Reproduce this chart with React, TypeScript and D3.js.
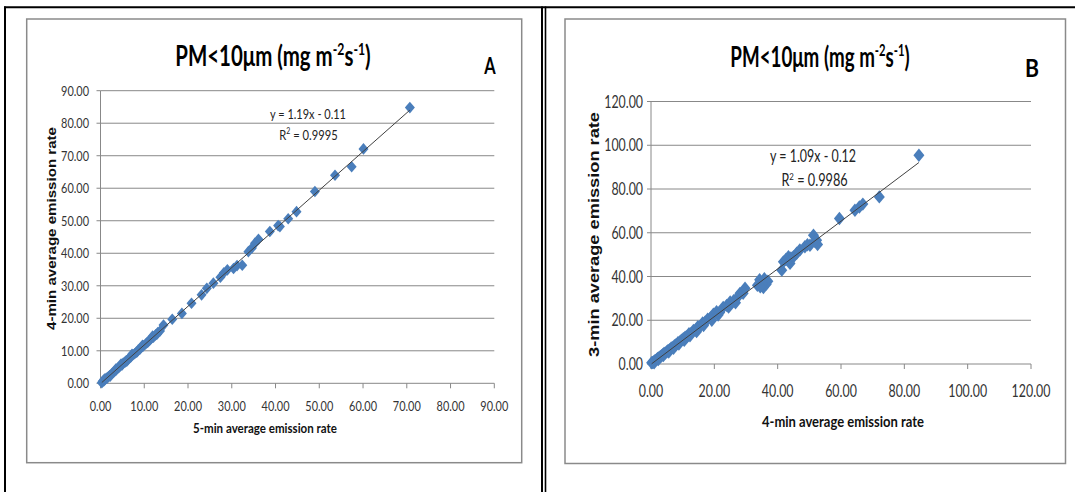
import React from 'react';
import * as d3 from 'd3';

// ---------- DATA ----------
const ticksA = [0, 10, 20, 30, 40, 50, 60, 70, 80, 90];
const ticksB = [0, 20, 40, 60, 80, 100, 120];

// Panel A: 5-min (x) vs 4-min (y)
const aX = [0.3, 0.5, 0.8, 1.0, 1.3, 1.5, 1.8, 2.1, 2.4, 2.7, 3.0, 3.3, 3.6, 3.9, 4.2, 4.5, 4.9, 5.2, 5.6, 5.9,
  6.3, 6.7, 7.0, 7.4, 7.8, 8.2, 8.6, 9.0, 9.4, 9.8, 10.3, 10.7, 11.2, 11.6, 12.1, 12.6, 13.1, 13.6,
  14.4, 16.4, 18.6, 20.8, 23.1, 24.3, 25.8, 27.4, 28.2, 29.0, 30.4, 31.2, 32.4,
  33.8, 34.6, 35.3, 36.1, 38.7, 40.6, 41.0, 42.9, 44.8, 49.0, 53.6, 57.4, 60.1, 70.7,
  0.9, 2.2, 3.5, 4.7, 6.0, 7.2, 8.4, 9.6, 10.9, 11.9, 12.9];
const aY = [0.2, 0.6, 0.8, 1.1, 1.5, 1.6, 2.0, 2.4, 2.7, 3.1, 3.4, 3.8, 4.1, 4.6, 4.9, 5.3, 5.6, 6.2, 6.5, 7.0,
  7.3, 7.9, 8.2, 8.8, 9.1, 9.6, 10.2, 10.5, 11.2, 11.5, 12.1, 12.6, 13.2, 13.8, 14.2, 14.9, 15.6, 16.1,
  17.9, 19.7, 21.5, 24.6, 27.2, 29.2, 30.8, 32.6, 34.0, 34.9, 35.3, 36.2, 36.3,
  40.5, 41.6, 43.1, 44.3, 46.7, 48.5, 48.2, 50.6, 52.8, 59.0, 64.0, 66.6, 72.1, 84.8,
  1.3, 2.2, 4.4, 5.9, 6.8, 8.9, 9.7, 11.7, 12.8, 14.5, 15.1];
const fitA = { slope: 1.19, intercept: -0.11, eq: 'y = 1.19x - 0.11', r2: '0.9995' };

// Panel B: 4-min (x) vs 3-min (y)
const bX = [0.2, 0.5, 0.8, 1.1, 1.4, 1.8, 2.1, 2.5, 2.9, 3.3, 3.7, 4.1, 4.5, 5.0, 5.4, 5.9, 6.4, 6.9, 7.4, 7.9,
  8.5, 9.0, 9.6, 10.2, 10.8, 11.4, 12.0, 12.7, 13.4, 14.1, 14.8, 15.5, 16.3, 17.1, 17.9, 18.8, 19.7, 20.7,
  21.7, 22.8, 23.9, 25.0, 26.1, 27.4, 28.1, 29.1, 29.7,
  33.6, 34.3, 35.0, 35.5, 35.8, 36.4, 36.9, 35.2, 34.5,
  41.3, 41.8, 42.6, 43.4, 43.9, 44.2, 45.0, 46.0, 47.0, 48.6, 49.4, 50.2, 51.3, 51.8, 52.3, 52.6,
  59.5, 64.4, 65.8, 66.9, 72.1, 84.6,
  1.0, 2.3, 3.9, 5.6, 7.1, 8.8, 10.5, 12.3, 14.4, 16.6, 19.2, 21.2, 24.5, 26.7];
const bY = [0.6, 0.7, 0.9, 1.4, 1.6, 2.1, 2.5, 2.9, 3.3, 3.8, 4.3, 4.8, 5.0, 5.6, 6.2, 6.5, 7.3, 7.6, 8.4, 8.8,
  9.7, 10.1, 10.9, 11.6, 12.3, 12.6, 13.8, 14.1, 15.3, 15.6, 17.0, 17.2, 18.8, 19.2, 20.5, 21.1, 22.8, 23.9,
  23.6, 25.9, 26.8, 28.4, 28.9, 30.6, 32.3, 32.3, 34.6,
  36.0, 38.5, 37.0, 35.0, 39.0, 36.5, 37.8, 36.8, 35.3,
  42.9, 46.7, 47.8, 49.0, 46.0, 48.5, 49.0, 50.6, 52.1, 53.6, 54.5, 54.3, 58.9, 56.0, 56.6, 54.6,
  66.5, 70.3, 71.8, 73.1, 76.4, 95.4,
  0.6, 2.0, 3.9, 5.5, 7.2, 9.1, 10.8, 12.9, 14.8, 17.6, 20.0, 22.4, 26.0, 28.0];
const fitB = { slope: 1.09, intercept: -0.12, eq: 'y = 1.09x - 0.12', r2: '0.9986' };

// ---------- STYLE ----------
const CAL = "Lato, 'Open Sans', sans-serif";
const ARIAL = "'Liberation Sans', Arial, sans-serif";
const MARKER = '#4a7ebb';
const GRID = '#888888';
const TICKTXT = '#333333';

type Box = { cx: number; base: number; size: number; sx: number };
type PanelCfg = {
  xs: number[]; ys: number[];
  fit: { slope: number; intercept: number; eq: string; r2: string };
  ticks: number[]; max: number;
  frame: [number, number, number, number];
  px: [number, number]; py: [number, number];
  tickSize: number; tickSx: number; yLabRight: number; yLabDy: number; xLabBase: number;
  title: Box;
  letter: { t: string; cx: number; base: number; w: number; size: number };
  xTitle: { t: string; cx: number; base: number; w: number; size: number };
  yTitle: { t: string; x: number; cy: number; w: number; size: number };
  eq1: { cx: number; base: number; w: number; size: number };
  eq2: Box;
  mw: number; mh: number;
};

function Panel({ c }: { c: PanelCfg }) {
  const x = d3.scaleLinear().domain([0, c.max]).range(c.px);
  const y = d3.scaleLinear().domain([0, c.max]).range(c.py);
  const [fx0, fx1] = d3.extent(c.xs) as [number, number];
  const line = d3.line<number>().x(d => x(d)).y(d => y(c.fit.slope * d + c.fit.intercept));
  const diamond = `M0,${-c.mh}L${c.mw},0L0,${c.mh}L${-c.mw},0Z`;
  const [fl, ft, fr, fb] = c.frame;
  const fmt = d3.format('.2f');
  const ts = c.title.size;
  const es = c.eq2.size;
  return (
    <g>
      <rect x={fl} y={ft} width={fr - fl} height={fb - ft} fill="#fff" stroke="#8a8a8a" strokeWidth={1.5} />
      {c.ticks.map(t => (
        <line key={'g' + t} x1={c.px[0]} x2={c.px[1]} y1={y(t)} y2={y(t)} stroke={GRID} strokeWidth={1} />
      ))}
      <line x1={c.px[0]} x2={c.px[0]} y1={c.py[0]} y2={c.py[1]} stroke={GRID} strokeWidth={1} />
      {c.ticks.map(t => (
        <line key={'yt' + t} x1={c.px[0] - 4} x2={c.px[0]} y1={y(t)} y2={y(t)} stroke={GRID} strokeWidth={1} />
      ))}
      {c.ticks.map(t => (
        <line key={'xt' + t} x1={x(t)} x2={x(t)} y1={c.py[0]} y2={c.py[0] + 5} stroke={GRID} strokeWidth={1} />
      ))}
      {c.ticks.map(t => (
        <text key={'yl' + t} transform={`translate(${c.yLabRight},${y(t) + c.yLabDy}) scale(${c.tickSx},1)`}
          fontSize={c.tickSize} fontFamily={CAL} fill={TICKTXT} textAnchor="end">{fmt(t)}</text>
      ))}
      {c.ticks.map(t => (
        <text key={'xl' + t} transform={`translate(${x(t)},${c.xLabBase}) scale(${c.tickSx},1)`}
          fontSize={c.tickSize} fontFamily={CAL} fill={TICKTXT} textAnchor="middle">{fmt(t)}</text>
      ))}
      {c.xs.map((v, i) => (
        <path key={'m' + i} d={diamond} transform={`translate(${x(v)},${y(c.ys[i])})`} fill={MARKER} />
      ))}
      <path d={line([fx0, fx1]) || ''} stroke="#404040" strokeWidth={1} fill="none" />
      <text x={c.eq1.cx} y={c.eq1.base} textAnchor="middle" fontSize={c.eq1.size} fontFamily={CAL} fill="#222"
        textLength={c.eq1.w} lengthAdjust="spacingAndGlyphs">{c.fit.eq}</text>
      <text transform={`translate(${c.eq2.cx},${c.eq2.base}) scale(${c.eq2.sx},1)`} textAnchor="middle"
        fontSize={es} fontFamily={CAL} fill="#222">
        R<tspan dy={-es * 0.38} fontSize={es * 0.62}>2</tspan>
        <tspan dy={es * 0.38}>{' = ' + c.fit.r2}</tspan>
      </text>
      <text transform={`translate(${c.title.cx},${c.title.base}) scale(${c.title.sx},1)`} textAnchor="middle"
        fontSize={ts} fontWeight={700} fontFamily={CAL} fill="#000">
        PM&lt;10μm (mg m<tspan dy={-ts * 0.36} fontSize={ts * 0.6}>-2</tspan>
        <tspan dy={ts * 0.36}>s</tspan>
        <tspan dy={-ts * 0.36} fontSize={ts * 0.6}>-1</tspan>
        <tspan dy={ts * 0.36}>)</tspan>
      </text>
      <text x={c.letter.cx} y={c.letter.base} textAnchor="middle" fontSize={c.letter.size} fontWeight={700}
        fontFamily={CAL} fill="#000" textLength={c.letter.w} lengthAdjust="spacingAndGlyphs">{c.letter.t}</text>
      <text x={c.xTitle.cx} y={c.xTitle.base} textAnchor="middle" fontSize={c.xTitle.size} fontWeight={700}
        fontFamily={CAL} fill="#111" textLength={c.xTitle.w} lengthAdjust="spacingAndGlyphs">{c.xTitle.t}</text>
      <text transform={`translate(${c.yTitle.x},${c.yTitle.cy}) rotate(-90)`} textAnchor="middle"
        fontSize={c.yTitle.size} fontWeight={700} fontFamily={ARIAL} fill="#111"
        textLength={c.yTitle.w} lengthAdjust="spacingAndGlyphs">{c.yTitle.t}</text>
    </g>
  );
}

const cfgA: PanelCfg = {
  xs: aX, ys: aY, fit: fitA, ticks: ticksA, max: 90,
  frame: [26.7, 19, 521.7, 462.7], px: [100.5, 494.3], py: [383.3, 90.7],
  tickSize: 14, tickSx: 0.78, yLabRight: 89, yLabDy: 5, xLabBase: 410.5,
  title: { cx: 273, base: 65.5, size: 28, sx: 0.73 },
  letter: { t: 'A', cx: 490, base: 74, w: 11.4, size: 23 },
  xTitle: { t: '5-min average emission rate', cx: 265, base: 433, w: 144, size: 14 },
  yTitle: { t: '4-min average emission rate', x: 55.5, cy: 228.5, w: 203, size: 12.5 },
  eq1: { cx: 308, base: 119.3, w: 76, size: 14 },
  eq2: { cx: 308.5, base: 139.5, size: 14, sx: 0.8 },
  mw: 5, mh: 5.8,
};

const cfgB: PanelCfg = {
  xs: bX, ys: bY, fit: fitB, ticks: ticksB, max: 120,
  frame: [565, 19, 1065.5, 463.5], px: [651, 1031], py: [364, 101.5],
  tickSize: 16.5, tickSx: 0.75, yLabRight: 643, yLabDy: 6, xLabBase: 397,
  title: { cx: 820, base: 66.5, size: 28, sx: 0.67 },
  letter: { t: 'B', cx: 1032, base: 77, w: 14, size: 25 },
  xTitle: { t: '4-min average emission rate', cx: 843, base: 427, w: 162, size: 15.5 },
  yTitle: { t: '3-min average emission rate', x: 599, cy: 234.5, w: 245, size: 14 },
  eq1: { cx: 813, base: 161.7, w: 86, size: 16.5 },
  eq2: { cx: 814.5, base: 186, size: 16.5, sx: 0.77 },
  mw: 5.5, mh: 6.7,
};

export default function App() {
  return (
    <svg width={1075} height={492} style={{ position: 'absolute', left: 0, top: 0, background: '#fff' }}>
      <rect x={0} y={0} width={1075} height={492} fill="#fff" />
      <Panel c={cfgA} />
      <Panel c={cfgB} />
      <line x1={4} x2={1075} y1={7.3} y2={7.3} stroke="#000" strokeWidth={2} />
      <line x1={5} x2={5} y1={6.5} y2={492} stroke="#000" strokeWidth={2} />
      <line x1={542} x2={542} y1={6.5} y2={492} stroke="#000" strokeWidth={2} />
      <line x1={545.5} x2={545.5} y1={6.5} y2={492} stroke="#000" strokeWidth={1.6} />
    </svg>
  );
}
